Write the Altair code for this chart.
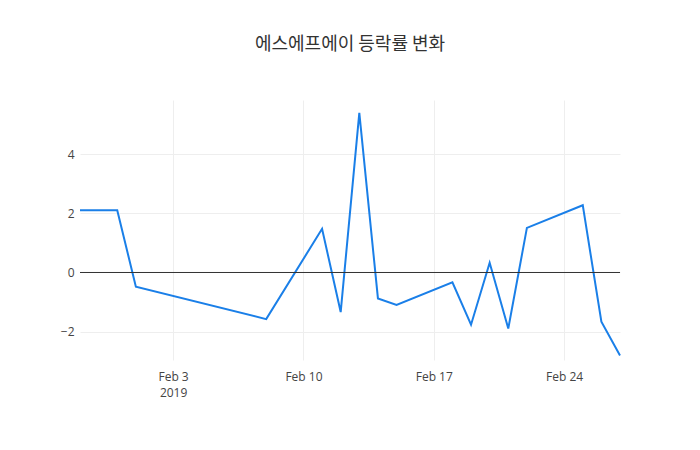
import altair as alt
import pandas as pd

dates = ["2019-01-29", "2019-01-31", "2019-02-01", "2019-02-08", "2019-02-11",
         "2019-02-12", "2019-02-13", "2019-02-14", "2019-02-15", "2019-02-18",
         "2019-02-19", "2019-02-20", "2019-02-21", "2019-02-22", "2019-02-25",
         "2019-02-26", "2019-02-27"]
changes = [2.11, 2.11, -0.48, -1.58, 1.48, -1.34, 5.41, -0.88, -1.10, -0.33,
           -1.77, 0.33, -1.90, 1.51, 2.28, -1.67, -2.81]
tick_dates = ["2019-02-03", "2019-02-10", "2019-02-17", "2019-02-24"]

df = pd.DataFrame({"date": dates, "change": changes})

x_scale = alt.Scale(type="utc", domain=["2019-01-29", "2019-02-27"], nice=False)
y_scale = alt.Scale(domain=[-2.965, 5.845], nice=False, zero=False)

# month + day without padding, year under the first tick
x_label = ("utcdate(datum.value) == 3 ? "
           "[utcFormat(datum.value, '%b ') + utcdate(datum.value), '2019'] : "
           "utcFormat(datum.value, '%b ') + utcdate(datum.value)")

line = alt.Chart(df).mark_line(color="#1a7fe8", strokeWidth=2).encode(
    x=alt.X("date:T", scale=x_scale,
            axis=alt.Axis(values=tick_dates, title=None, domain=False, ticks=False,
                          labelExpr=x_label, labelColor="#444", labelFontSize=12,
                          labelPadding=11, labelFont="Open Sans", gridColor="#eee",
                          labelLineHeight=16)),
    y=alt.Y("change:Q", scale=y_scale,
            axis=alt.Axis(values=[-2, 0, 2, 4], title=None, domain=False,
                          ticks=False, labelColor="#444", labelFontSize=12,
                          labelPadding=6, labelFont="Open Sans",
                          gridColor="#eee",
                          labelExpr="replace(datum.label, '-', '\u2212')")),
)

zero = alt.Chart(pd.DataFrame({"y": [0]})).mark_rule(color="#333", strokeWidth=1).encode(
    y=alt.Y("y:Q", scale=y_scale)
)

chart = (line + zero).properties(
    width=540,
    height=260,
    autosize=alt.AutoSizeParams(type="none"),
    padding={"left": 72, "top": 92, "right": 72, "bottom": 82},
    title=alt.TitleParams("에스에프에이 등락률 변화", anchor="middle", fontSize=18,
                          font="Noto Sans CJK KR", fontWeight="normal",
                          color="#333", offset=46),
).configure_view(stroke=None)

chart.save("out.html", embed_options={"renderer": "svg", "actions": False})
